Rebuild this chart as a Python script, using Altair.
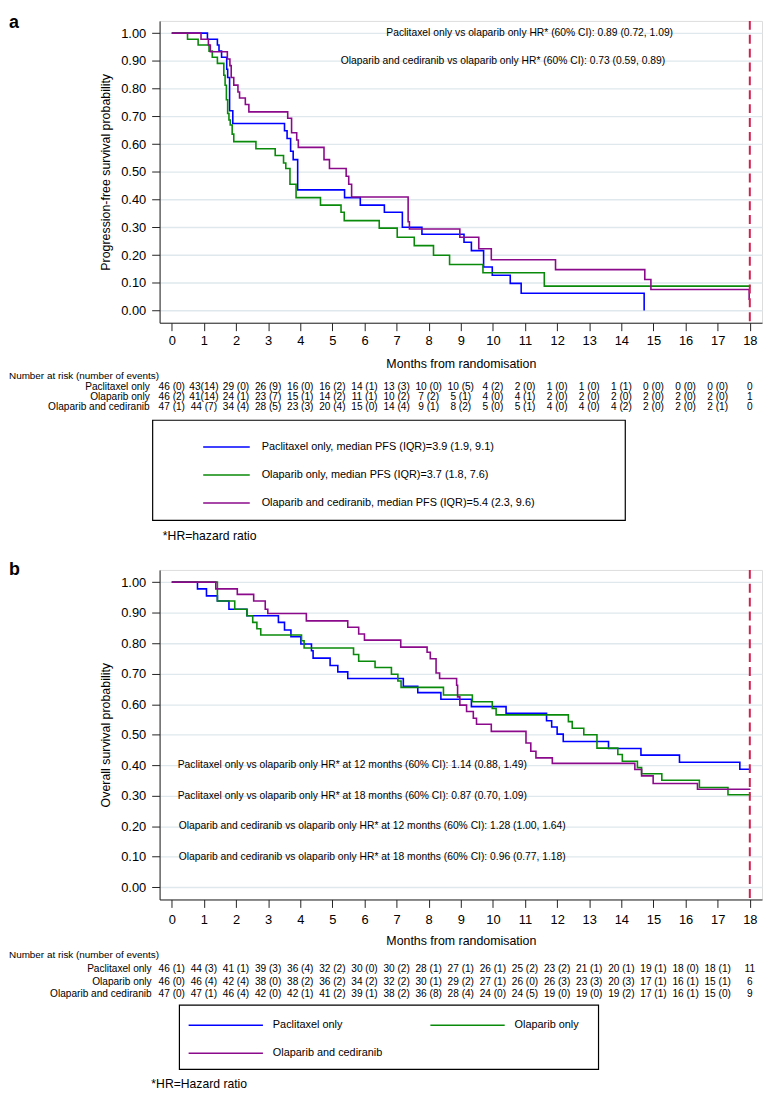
import altair as alt
import pandas as pd

FONT = "Liberation Sans"
MONTHS = list(range(19))
COLORS = ["#0000ff", "#0a8a0a", "#8b0a8b"]
SHORT = ["Paclitaxel only", "Olaparib only", "Olaparib and cediranib"]
PFS_LEGEND = [
    "Paclitaxel only, median PFS (IQR)=3.9 (1.9, 9.1)",
    "Olaparib only, median PFS (IQR)=3.7 (1.8, 7.6)",
    "Olaparib and cediranib, median PFS (IQR)=5.4 (2.3, 9.6)",
]

# ---------------- panel a: progression-free survival (step change points)
pfs_pac_t = [0, 1.11, 1.42, 1.47, 1.55, 1.71, 1.74, 1.80, 1.90, 3.51, 3.59, 3.70, 3.78, 3.92, 5.38, 5.87, 6.62,
             7.18, 7.79, 9.10, 9.33, 9.71, 9.98, 10.54, 10.88, 14.71]
pfs_pac_s = [1.0, 0.978, 0.957, 0.935, 0.913, 0.87, 0.84, 0.72, 0.674, 0.648, 0.62, 0.574, 0.544, 0.435, 0.407,
             0.38, 0.354, 0.30, 0.275, 0.246, 0.216, 0.157, 0.127, 0.098, 0.062, 0.0]
pfs_ola_t = [0, 0.49, 0.82, 1.16, 1.26, 1.42, 1.62, 1.66, 1.70, 1.74, 1.78, 1.82, 1.88, 1.93, 2.62, 3.22, 3.48,
             3.55, 3.68, 3.87, 4.63, 5.27, 5.37, 6.46, 7.02, 7.55, 8.15, 8.65, 9.69, 11.6, 18.02]
pfs_ola_s = [1.0, 0.978, 0.957, 0.935, 0.913, 0.891, 0.848, 0.812, 0.76, 0.71, 0.687, 0.669, 0.636, 0.609, 0.583,
             0.559, 0.532, 0.512, 0.455, 0.407, 0.38, 0.354, 0.324, 0.297, 0.264, 0.234, 0.199, 0.166, 0.136,
             0.088, 0.088]
pfs_oc_t = [0, 0.91, 1.14, 1.20, 1.73, 1.81, 1.85, 1.93, 2.06, 2.11, 2.29, 2.40, 3.61, 3.73, 3.89, 3.94, 4.74,
            4.91, 5.43, 5.51, 5.60, 7.36, 7.40, 8.97, 9.56, 9.95, 11.95, 14.73, 14.92, 17.98]
pfs_oc_s = [1.0, 0.978, 0.957, 0.933, 0.907, 0.883, 0.84, 0.8125, 0.788, 0.766, 0.743, 0.716, 0.693, 0.641, 0.615,
            0.588, 0.544, 0.512, 0.484, 0.455, 0.409, 0.32, 0.294, 0.264, 0.2225, 0.183, 0.1475, 0.112, 0.076,
            0.038]

# ---------------- panel b: overall survival
os_pac_t = [0, 0.80, 1.08, 1.42, 1.78, 2.34, 3.32, 3.51, 3.71, 4.02, 4.35, 4.40, 4.93, 5.17, 5.48, 7.21, 7.66,
            8.38, 9.33, 10.41, 11.67, 11.83, 12.00, 12.19, 13.6, 14.61, 15.81, 17.69, 18.02]
os_pac_s = [1.0, 0.978, 0.955, 0.938, 0.911, 0.89, 0.868, 0.843, 0.821, 0.797, 0.775, 0.751, 0.727, 0.706, 0.684,
            0.659, 0.638, 0.616, 0.592, 0.57, 0.546, 0.525, 0.502, 0.478, 0.455, 0.433, 0.41, 0.387, 0.387]
os_ola_t = [0, 1.42, 1.96, 2.34, 2.52, 2.65, 2.77, 4.04, 4.12, 5.66, 5.82, 6.33, 6.84, 7.04, 7.14, 8.46, 9.36,
            9.98, 10.10, 12.35, 12.47, 12.83, 13.24, 13.89, 14.03, 14.5, 14.63, 15.26, 16.43, 17.32, 18.02]
os_ola_s = [1.0, 0.938, 0.911, 0.89, 0.868, 0.847, 0.827, 0.808, 0.784, 0.763, 0.741, 0.72, 0.698, 0.676, 0.655,
            0.63, 0.608, 0.586, 0.565, 0.543, 0.521, 0.5, 0.456, 0.435, 0.413, 0.392, 0.372, 0.351, 0.327, 0.303,
            0.303]
os_oc_t = [0, 1.37, 2.04, 2.55, 2.91, 2.99, 4.19, 5.48, 5.82, 6.0, 7.13, 7.95, 8.05, 8.23, 8.34, 8.87, 8.90, 8.97,
           9.18, 9.39, 9.49, 9.95, 11.03, 11.18, 11.34, 11.85, 14.42, 14.63, 14.99, 16.37, 18.02]
os_oc_s = [1.0, 0.978, 0.96, 0.938, 0.911, 0.897, 0.873, 0.852, 0.83, 0.81, 0.787, 0.77, 0.749, 0.702, 0.684,
           0.662, 0.624, 0.597, 0.576, 0.554, 0.534, 0.511, 0.473, 0.446, 0.424, 0.406, 0.386, 0.365, 0.34, 0.321,
           0.321]

# ---------------- numbers at risk (number of events)
pfs_n_pac = [46, 43, 29, 26, 16, 16, 14, 13, 10, 10, 4, 2, 1, 1, 1, 0, 0, 0, 0]
pfs_e_pac = [0, 14, 0, 9, 0, 2, 1, 3, 0, 5, 2, 0, 0, 0, 1, 0, 0, 0]
pfs_n_ola = [46, 41, 24, 23, 15, 14, 11, 10, 7, 5, 4, 4, 2, 2, 2, 2, 2, 2, 1]
pfs_e_ola = [2, 14, 1, 7, 1, 2, 1, 2, 2, 1, 0, 1, 0, 0, 0, 0, 0, 0]
pfs_n_oc = [47, 44, 34, 28, 23, 20, 15, 14, 9, 8, 5, 5, 4, 4, 4, 2, 2, 2, 0]
pfs_e_oc = [1, 7, 4, 5, 3, 4, 0, 4, 1, 2, 0, 1, 0, 0, 2, 0, 0, 1]

os_n_pac = [46, 44, 41, 39, 36, 32, 30, 30, 28, 27, 26, 25, 23, 21, 20, 19, 18, 18, 11]
os_e_pac = [1, 3, 1, 3, 4, 2, 0, 2, 1, 1, 1, 2, 2, 1, 1, 1, 0, 1]
os_n_ola = [46, 46, 42, 38, 38, 36, 34, 32, 30, 29, 27, 26, 26, 23, 20, 17, 16, 15, 6]
os_e_ola = [0, 4, 4, 0, 2, 2, 2, 2, 1, 2, 1, 0, 3, 3, 3, 1, 1, 1]
os_n_oc = [47, 47, 46, 42, 42, 41, 39, 38, 36, 28, 24, 24, 19, 19, 19, 17, 16, 15, 9]
os_e_oc = [0, 1, 4, 0, 1, 2, 1, 2, 8, 4, 0, 5, 0, 0, 2, 1, 1, 0]

PFS_HR = [
    (6.68, 1.0, "Paclitaxel only vs olaparib only HR* (60% CI): 0.89 (0.72, 1.09)"),
    (5.26, 0.9, "Olaparib and cediranib vs olaparib only HR* (60% CI): 0.73 (0.59, 0.89)"),
]
OS_HR = [
    (0.185, 0.4, "Paclitaxel only vs olaparib only HR* at 12 months (60% CI): 1.14 (0.88, 1.49)"),
    (0.185, 0.3, "Paclitaxel only vs olaparib only HR* at 18 months (60% CI): 0.87 (0.70, 1.09)"),
    (0.216, 0.2, "Olaparib and cediranib vs olaparib only HR* at 12 months (60% CI): 1.28 (1.00, 1.64)"),
    (0.216, 0.1, "Olaparib and cediranib vs olaparib only  HR* at 18 months (60% CI): 0.96 (0.77, 1.18)"),
]

W = 608


def cells(ns, es):
    out = []
    for i, n in enumerate(ns):
        if i < len(es):
            e = es[i]
            out.append(f"{n} ({e})" if e < 10 else f"{n}({e})")
        else:
            out.append(str(n))
    return out


def one_text(txt, x, y, size, align="left", weight="normal", baseline="middle"):
    return alt.Chart(pd.DataFrame({"txt": [txt]})).mark_text(
        font=FONT, fontSize=size, align=align, baseline=baseline, fontWeight=weight, color="black"
    ).encode(x=alt.value(x), y=alt.value(y), text="txt:N")


def panel(tag, curves, names, legend_order, ytitle, ydom, height, hr, table, g):
    xs = alt.Scale(domain=[-0.38, 18.38], nice=False, zero=False)
    ys = alt.Scale(domain=ydom, nice=False, zero=False)
    xaxis = alt.Axis(values=MONTHS, title="Months from randomisation", grid=False, tickSize=8,
                     labelPadding=g["xlp"], labelFontSize=13, titleFontSize=12.5, titlePadding=g["xtp"],
                     labelFlush=False, labelOverlap=False, domainColor="#222", tickColor="#222",
                     labelFont=FONT, titleFont=FONT, titleFontWeight="normal", labelColor="black",
                     titleColor="black")
    yaxis = alt.Axis(values=[round(i * 0.1, 1) for i in range(11)], format=".2f", title=ytitle,
                     grid=True, gridColor="#dfe8ed", gridWidth=1.3, tickSize=8, labelPadding=6,
                     labelFontSize=13, titleFontSize=12.5, titlePadding=8, labelFlush=False,
                     domainColor="#222", tickColor="#222", labelFont=FONT, titleFont=FONT,
                     titleFontWeight="normal", labelColor="black", titleColor="black")
    X = alt.X("t:Q", scale=xs, axis=xaxis)
    Y = alt.Y("s:Q", scale=ys, axis=yaxis)

    frames = []
    for (ts, ss), nm in zip(curves, names):
        frames.append(pd.DataFrame({"t": ts, "s": ss, "series": nm}))
    cdf = pd.concat(frames, ignore_index=True)
    cdf["ord"] = range(len(cdf))

    color_of = dict(zip(names, COLORS))
    legend = alt.Legend(orient="none", legendX=g["lx"], legendY=g["ly"], title=None, symbolType="stroke",
                        symbolSize=g["ss"], symbolStrokeWidth=1.6, labelFontSize=11, labelFont=FONT,
                        labelColor="black", clipHeight=20, rowPadding=8.3, columns=g["cols"],
                        columnPadding=g["cp"], labelOffset=g["lo"], padding=0, labelLimit=500)

    box = alt.Chart(pd.DataFrame({"k": [0]})).mark_rect(
        fillOpacity=0, stroke="black", strokeWidth=1.2
    ).encode(x=alt.value(g["bx"][0]), x2=alt.value(g["bx"][1]), y=alt.value(g["by"][0]),
             y2=alt.value(g["by"][1]))

    lines = alt.Chart(cdf).mark_line(interpolate="step-after", strokeWidth=1.6).encode(
        x=X, y=Y, order="ord:Q",
        color=alt.Color("series:N", scale=alt.Scale(domain=legend_order,
                                                     range=[color_of[n] for n in legend_order]),
                        legend=legend),
    )
    rule = alt.Chart(pd.DataFrame({"t": [18]})).mark_rule(
        color="#d1204f", strokeDash=[9, 5], strokeWidth=2
    ).encode(x=X)

    hrdf = pd.DataFrame({"t": [h[0] for h in hr], "s": [h[1] for h in hr], "txt": [h[2] for h in hr]})
    hrt = alt.Chart(hrdf).mark_text(font=FONT, fontSize=10.4, align="left", baseline="middle",
                                     color="black").encode(x=X, y=Y, text="txt:N")

    layers = [box, lines, rule, hrt]
    layers.append(one_text("Number at risk (number of events)", -152, g["th"], 10))
    for i, (lab, ns, es) in enumerate(table):
        yrow = g["tr"][i]
        tdf = pd.DataFrame({"t": MONTHS, "txt": cells(ns, es)})
        layers.append(alt.Chart(tdf).mark_text(font=FONT, fontSize=10.2, align="center", baseline="middle",
                                               color="black").encode(x=X, y=alt.value(yrow), text="txt:N"))
        layers.append(one_text(lab, g["rl"], yrow, 10.2, align="right"))
    layers.append(one_text(g["foot"], g["fx"], g["fy"], 12.3))
    layers.append(one_text(tag, -152, g["tagy"], 18, weight="bold", baseline=g["tagb"]))

    return alt.layer(*layers).properties(width=W, height=height)


pa = panel(
    "a",
    [(pfs_pac_t, pfs_pac_s), (pfs_ola_t, pfs_ola_s), (pfs_oc_t, pfs_oc_s)],
    PFS_LEGEND, PFS_LEGEND, "Progression-free survival probability", [-0.044, 1.044], 304.6, PFS_HR,
    [(SHORT[0], pfs_n_pac, pfs_e_pac), (SHORT[1], pfs_n_ola, pfs_e_ola), (SHORT[2], pfs_n_oc, pfs_e_oc)],
    dict(xlp=4, xtp=10, lx=43, ly=420, ss=2209, cols=1, cp=10, lo=11, bx=(-7, 470), by=(403, 504),
         th=358.3, tr=[370, 380, 390], rl=-10, foot="*HR=hazard ratio", fx=3.3, fy=520,
         tagy=-7, tagb="top"),
)

pb = panel(
    "b",
    [(os_pac_t, os_pac_s), (os_ola_t, os_ola_s), (os_oc_t, os_oc_s)],
    SHORT, [SHORT[0], SHORT[2], SHORT[1]], "Overall survival probability", [-0.04, 1.04], 332.6, OS_HR,
    [(SHORT[0], os_n_pac, os_e_pac), (SHORT[1], os_n_ola, os_e_ola), (SHORT[2], os_n_oc, os_e_oc)],
    dict(xlp=6, xtp=8, lx=28.3, ly=449.5, ss=5625, cols=2, cp=47, lo=9, bx=(20, 443), by=(439.3, 504),
         th=388.5, tr=[403, 415.7, 428.4], rl=-8, foot="*HR=Hazard ratio", fx=-8.3, fy=518.5,
         tagy=5, tagb="alphabetic"),
)

chart = alt.vconcat(pa, pb, spacing=249.1, bounds="flush").resolve_scale(
    color="independent"
).properties(padding=0).configure_view(strokeWidth=0).configure(background="white")

chart.save("out.html", embed_options={"renderer": "svg", "actions": False})
